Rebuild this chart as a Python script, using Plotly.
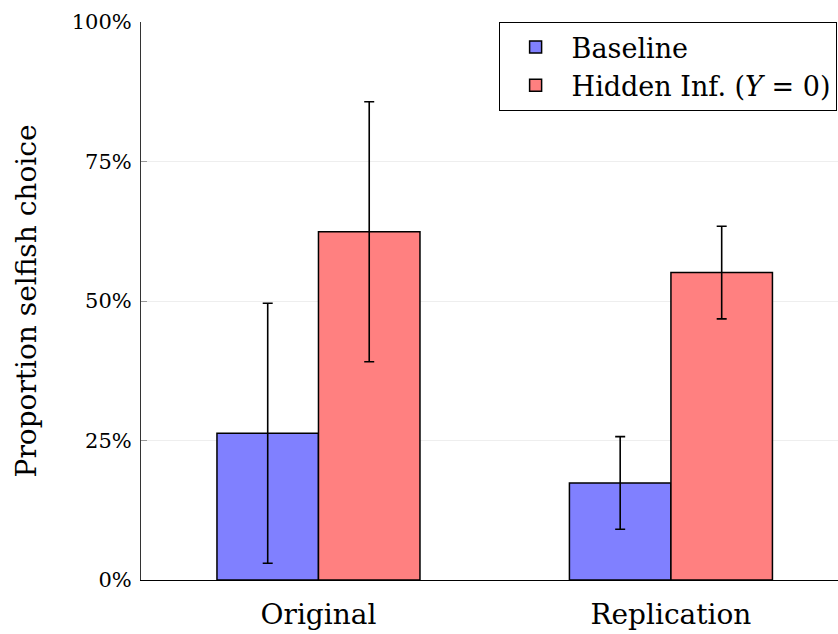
import plotly.graph_objects as go

categories = ["Original", "Replication"]
baseline = [26.3, 17.4]
baseline_err = [23.3, 8.3]
hidden = [62.4, 55.1]
hidden_err = [23.3, 8.3]
series_names = ["Baseline", "Hidden Inf. (<i>Y</i> = 0)"]
ytick_vals = [0, 25, 50, 75, 100]
ytick_text = ["0%", "25%", "50%", "75%", "100%"]

FONT = "DejaVu Serif, serif"

fig = go.Figure()
fig.add_trace(go.Bar(
    x=categories, y=baseline, name=series_names[0],
    marker=dict(color="#8080FF", line=dict(color="black", width=1.5)),
    error_y=dict(type="data", array=baseline_err, color="black", thickness=1.6, width=5),
))
fig.add_trace(go.Bar(
    x=categories, y=hidden, name=series_names[1],
    marker=dict(color="#FF8080", line=dict(color="black", width=1.5)),
    error_y=dict(type="data", array=hidden_err, color="black", thickness=1.6, width=5),
))

fig.update_layout(
    width=838, height=634,
    margin=dict(l=141, r=0, t=22, b=54),
    barmode="group", bargap=0.424, bargroupgap=0.0,
    plot_bgcolor="white", paper_bgcolor="white",
    font=dict(family=FONT, color="black"),
    legend=dict(
        x=0.998, xanchor="right", y=1, yanchor="top",
        bgcolor="white", bordercolor="black", borderwidth=1,
        font=dict(size=27, family=FONT),
        itemwidth=62, tracegroupgap=0,
    ),
    xaxis=dict(
        range=[-0.5035, 1.474],
        showline=True, linecolor="black", linewidth=1,
        ticks="", tickfont=dict(size=28, family=FONT),
        ticklabelstandoff=9, showgrid=False,
    ),
    yaxis=dict(
        range=[0, 100], tickvals=ytick_vals, ticktext=ytick_text,
        showline=True, linecolor="#333", linewidth=1,
        ticks="inside", ticklen=6, tickcolor="#999",
        showgrid=True, gridcolor="#eeeeee", gridwidth=1,
        zeroline=False,
        tickfont=dict(size=21, family=FONT),
        ticklabelstandoff=4,
        title=dict(text="Proportion selfish choice", font=dict(size=28, family=FONT), standoff=26),
    ),
)

fig.write_html("out.html")
